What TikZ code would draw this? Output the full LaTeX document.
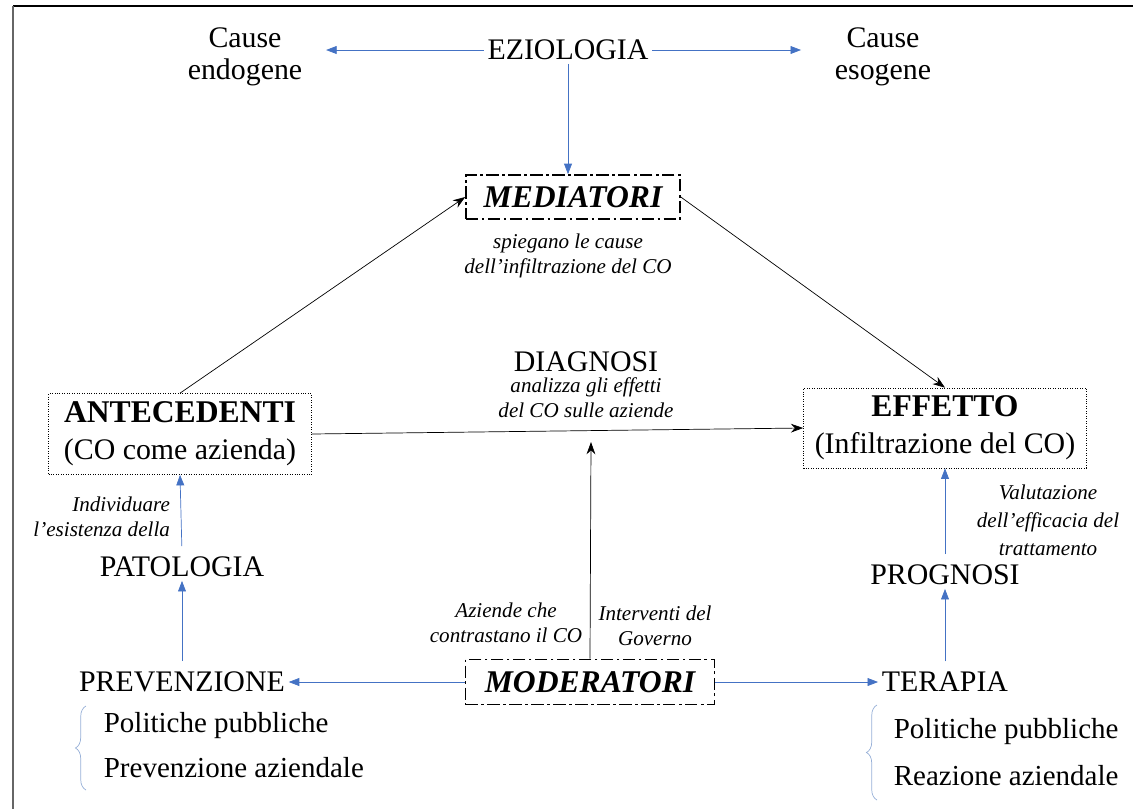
\documentclass[tikz,border=0pt]{standalone}
\usepackage{fontspec}
\setmainfont{Liberation Serif}
\usetikzlibrary{positioning, arrows.meta, decorations.pathreplacing}

\definecolor{arrowblue}{RGB}{68,114,196}
\definecolor{bracegray}{RGB}{150,175,215}

\begin{document}
\begin{tikzpicture}[
        x=0.02cm, y=-0.02cm,
        >={Stealth[length=7pt, width=5pt]},
        term/.style={font=\fontsize{17}{19}\selectfont, align=center, inner sep=2pt},
        note/.style={font=\itshape\fontsize{12}{14.2}\selectfont, align=center, inner sep=1pt},
        dotbox/.style={draw, densely dotted, thin, align=center, font=\fontsize{17}{21}\selectfont, inner sep=0pt},
        dashbox/.style={draw, line width=0.9pt, dash pattern=on 7pt off 2pt on 1.5pt off 2pt, font=\bfseries\itshape\fontsize{18}{20}\selectfont, inner sep=0pt},
        bluearrow/.style={draw=arrowblue, thin, -{Triangle[length=6pt, width=4.5pt]}},
        blackarrow/.style={thin, ->},
        listbrace/.style={draw=bracegray, thin, decorate, decoration={brace, amplitude=6pt}},
    ]
        \useasboundingbox (0,0) rectangle (1133,809);

        % Frame of the page
        \draw[line width=1.2pt] (13,6) -- (1133,6);
        \draw[line width=0.9pt, black!60] (13,6) -- (13,809);

        % Draw the top row
        \node[term] (ezio) at (568,50) {EZIOLOGIA};
        \node[term, font=\fontsize{17}{18.5}\selectfont] (endo) at (245,57) {Cause\\endogene};
        \node[term, font=\fontsize{17}{18.5}\selectfont] (eso) at (883,57) {Cause\\esogene};

        % Draw the boxes
        \node[dashbox, minimum width=4.28cm, minimum height=0.88cm] (med) at (573,197) {MEDIATORI};
        \node[note] (medNote) at (568,256) {spiegano le cause\\dell'infiltrazione del CO};
        \node[dotbox, minimum width=5.26cm, minimum height=1.62cm] (ante) at (180,434) {{\fontsize{18}{21}\selectfont\bfseries ANTECEDENTI}\\(CO come azienda)};
        \node[dotbox, minimum width=5.66cm, minimum height=1.6cm] (eff) at (945,428) {{\fontsize{18}{21}\selectfont\bfseries EFFETTO}\\(Infiltrazione del CO)};
        \node[term] (diag) at (586,362) {DIAGNOSI};
        \node[note, below=0pt of diag] (diagNote) {analizza gli effetti\\del CO sulle aziende};

        % Draw the lower rows
        \node[term] (pato) at (182,567) {PATOLOGIA};
        \node[term] (prev) at (182,682) {PREVENZIONE};
        \node[dashbox, minimum width=4.98cm, minimum height=0.9cm] (mod) at (590,682) {MODERATORI};
        \node[term] (tera) at (945,682) {TERAPIA};
        \node[term] (prog) at (945,575) {PROGNOSI};

        \node[note, align=right, anchor=east] (patoNote) at (172,517) {Individuare\\l'esistenza della};
        \node[note] (modNoteL) at (506,623) {Aziende che\\contrastano il CO};
        \node[note] (modNoteR) at (655,626) {Interventi del\\Governo};
        \node[note, font=\itshape\fontsize{12}{16}\selectfont] (progNote) at (1048,520) {Valutazione\\dell'efficacia del\\trattamento};

        % Lists with braces
        \node[term, align=left, anchor=west, font=\fontsize{16.5}{26}\selectfont] (prevList) at (100,745) {Politiche pubbliche\\Prevenzione aziendale};
        \node[term, align=left, anchor=west, font=\fontsize{16.5}{26.5}\selectfont] (teraList) at (890,752) {Politiche pubbliche\\Reazione aziendale};
        \draw[listbrace] (86,790) -- (86,706);
        \draw[listbrace] (877,800) -- (877,705);

        % Connect the top row
        \draw[bluearrow, shorten >=0.4cm] (ezio.west) -- (endo.east |- ezio.west);
        \draw[bluearrow, shorten >=0.6cm] (ezio.east) -- (eso.west |- ezio.east);
        \draw[bluearrow] (ezio.south) -- (ezio.south |- med.north);

        % Connect the boxes
        \draw[blackarrow] (ante.north) -- (med.west);
        \draw[blackarrow] (med.east) -- (eff.north);
        \draw[blackarrow] (ante.east) -- (eff.west);
        \coordinate (diagTip) at (591,442);
        \draw[blackarrow] (mod.north) -- (diagTip);

        % Connect the lower rows
        \foreach \src/\dst in {pato/ante, prev/pato, tera/prog, prog/eff}
            \draw[bluearrow, shorten <=4pt] (\src.north) -- (\dst.south);
        \draw[bluearrow] (mod.west) -- (prev.east);
        \draw[bluearrow] (mod.east) -- (tera.west);
    \end{tikzpicture}
\end{document}
